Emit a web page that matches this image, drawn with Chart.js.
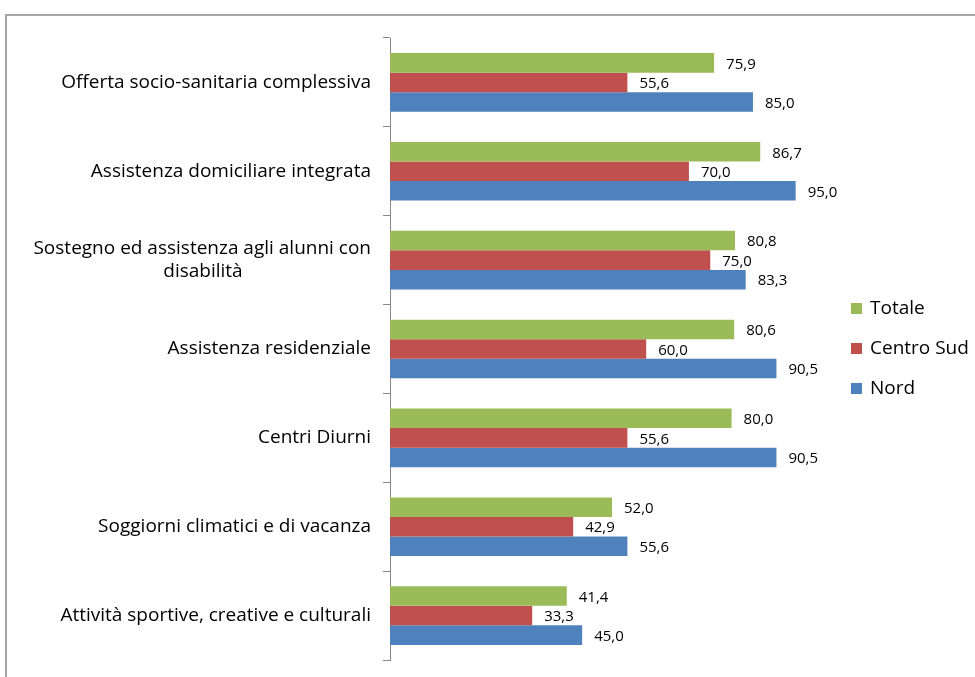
<!DOCTYPE html>
<html>
<head>
<meta charset="utf-8">
<script src="https://cdn.jsdelivr.net/npm/chart.js@4"></script>
<style>
  html, body { margin: 0; padding: 0; background: #fff; }
</style>
</head>
<body>
<canvas id="chart" width="975" height="677"></canvas>
<script>
// categories (top to bottom)
const categories = [
  "Offerta socio-sanitaria complessiva",
  "Assistenza domiciliare integrata",
  ["Sostegno ed assistenza agli alunni con", "disabilità"],
  "Assistenza residenziale",
  "Centri Diurni",
  "Soggiorni climatici e di vacanza",
  "Attività sportive, creative e culturali",
];

const seriesNames = ["Totale", "Centro Sud", "Nord"];
const totale = [75.9, 86.7, 80.8, 80.6, 80.0, 52.0, 41.4];
const centroSud = [55.6, 70.0, 75.0, 60.0, 55.6, 42.9, 33.3];
const nord = [85.0, 95.0, 83.3, 90.5, 90.5, 55.6, 45.0];

const colors = ["#9BBB59", "#C0504D", "#4F81BD"];
const FONT = "'Open Sans', 'Liberation Sans', sans-serif";
const LABEL_SIZE = 19;

// wrapped labels: centre the short lines under the long one
// (labels are drawn right-aligned, so pad with trailing spaces)
const measureCtx = document.createElement("canvas").getContext("2d");
function centreLines(label) {
  if (!Array.isArray(label)) return label;
  measureCtx.font = LABEL_SIZE + "px " + FONT;
  const widths = label.map((l) => measureCtx.measureText(l).width);
  const maxW = Math.max(...widths);
  const space = measureCtx.measureText(" ").width;
  return label.map((l, i) => l + " ".repeat(Math.round((maxW - widths[i]) / 2 / space)));
}

// value labels next to each bar, comma decimals
const valueLabels = {
  id: "valueLabels",
  afterDatasetsDraw(chart) {
    const ctx = chart.ctx;
    ctx.save();
    ctx.font = "15px " + FONT;
    ctx.fillStyle = "#000";
    ctx.textAlign = "left";
    ctx.textBaseline = "middle";
    chart.data.datasets.forEach((ds, i) => {
      chart.getDatasetMeta(i).data.forEach((bar, j) => {
        const txt = ds.data[j].toFixed(1).replace(".", ",");
        ctx.fillText(txt, bar.x + 12, bar.y + 1.5);
      });
    });
    ctx.restore();
  },
};

// legend to the right of the plot, vertically centred on it
const sideLegend = {
  id: "sideLegend",
  afterDraw(chart) {
    const ctx = chart.ctx;
    const area = chart.chartArea;
    const mid = (area.top + area.bottom) / 2;
    const n = chart.data.datasets.length;
    ctx.save();
    ctx.font = "19px " + FONT;
    ctx.textAlign = "left";
    ctx.textBaseline = "middle";
    chart.data.datasets.forEach((ds, i) => {
      const y = mid + (i - (n - 1) / 2) * 40;
      ctx.fillStyle = ds.backgroundColor;
      ctx.fillRect(area.right + 34, y - 6, 11, 11);
      ctx.fillStyle = "#000";
      ctx.fillText(ds.label, area.right + 53, y);
    });
    ctx.restore();
  },
};

// grey frame of the chart object
const frame = {
  id: "frame",
  beforeDraw(chart) {
    const ctx = chart.ctx;
    ctx.save();
    ctx.strokeStyle = "#a6a6a6";
    ctx.lineWidth = 2;
    ctx.strokeRect(6, 15, 2000, 2000);
    ctx.restore();
  },
};

new Chart(document.getElementById("chart"), {
  type: "bar",
  data: {
    labels: categories.map(centreLines),
    datasets: [
      { label: seriesNames[0], data: totale, backgroundColor: colors[0] },
      { label: seriesNames[1], data: centroSud, backgroundColor: colors[1] },
      { label: seriesNames[2], data: nord, backgroundColor: colors[2] },
    ],
  },
  options: {
    indexAxis: "y",
    responsive: false,
    animation: false,
    categoryPercentage: 0.66,
    barPercentage: 1.0,
    layout: { padding: { top: 38, bottom: 17, left: 0, right: 158 } },
    scales: {
      x: { display: false, min: 0, max: 100 },
      y: {
        afterFit(scale) {
          scale.width = 390;
          scale.paddingTop = 0;
          scale.paddingBottom = 0;
        },
        grid: {
          offset: true,
          drawOnChartArea: false,
          drawTicks: true,
          tickLength: 7,
          color: "#888",
        },
        border: { color: "#888", width: 1 },
        ticks: {
          color: "#000",
          padding: 12,
          font: { family: FONT, size: LABEL_SIZE, lineHeight: 1.25 },
        },
      },
    },
    plugins: {
      legend: { display: false },
      tooltip: { enabled: false },
    },
  },
  plugins: [frame, valueLabels, sideLegend],
});
</script>
</body>
</html>
